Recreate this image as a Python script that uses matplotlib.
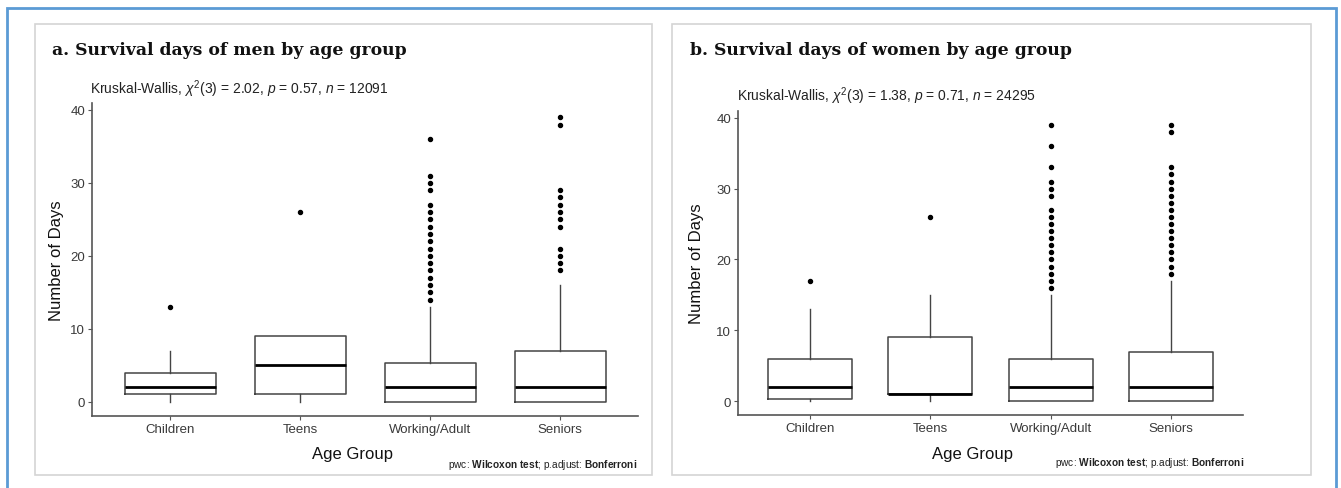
import matplotlib
matplotlib.use("Agg")
import matplotlib.pyplot as plt
from matplotlib.patches import Rectangle

plt.rcParams['font.family'] = ['Liberation Sans', 'DejaVu Sans']
plt.rcParams['mathtext.fontset'] = 'custom'
plt.rcParams['mathtext.rm'] = 'Liberation Sans'
plt.rcParams['mathtext.it'] = 'Liberation Sans:italic'
plt.rcParams['mathtext.bf'] = 'Liberation Sans:bold'

# data
groups = ["Children", "Teens", "Working/Adult", "Seniors"]

men_q1 = [1, 1, 0, 0]
men_med = [2, 5, 2, 2]
men_q3 = [4, 9, 5.25, 7]
men_whislo = [0, 0, 0, 0]
men_whishi = [7, 9, 13, 16]
men_outliers = [
    [13],
    [26],
    [14, 15, 16, 17, 18, 19, 20, 21, 22, 23, 24, 25, 26, 27, 29, 30, 31, 36],
    [18, 19, 20, 21, 24, 25, 26, 27, 28, 29, 38, 39],
]

women_q1 = [0.25, 1, 0, 0]
women_med = [2, 1, 2, 2]
women_q3 = [6, 9, 6, 7]
women_whislo = [0, 0, 0, 0]
women_whishi = [13, 15, 15, 17]
women_outliers = [
    [17],
    [26],
    [16, 17, 18, 19, 20, 21, 22, 23, 24, 25, 26, 27, 29, 30, 31, 33, 36, 39],
    [18, 19, 20, 21, 22, 23, 24, 25, 26, 27, 28, 29, 30, 31, 32, 33, 38, 39],
]

titles = ["a. Survival days of men by age group", "b. Survival days of women by age group"]
subtitles = [r"Kruskal-Wallis, $\chi^2$(3) = 2.02, $p$ = 0.57, $n$ = 12091",
             r"Kruskal-Wallis, $\chi^2$(3) = 1.38, $p$ = 0.71, $n$ = 24295"]
caption = r"pwc: $\mathbf{Wilcoxon\ test}$; p.adjust: $\mathbf{Bonferroni}$"

W, H = 1341, 489
fig = plt.figure(figsize=(W / 100, H / 100), dpi=100)


def px(x0, y0, x1, y1):
    # pixel box (top-left origin) -> figure fraction rect
    return [x0 / W, 1 - y1 / H, (x1 - x0) / W, (y1 - y0) / H]


# outer blue frame and the two grey panel frames
fig.patches.append(Rectangle((7 / W, -0.05), (1336 - 7) / W, 1.05 - 9 / H,
                             transform=fig.transFigure, fill=False,
                             edgecolor='#5b9bd5', linewidth=2))
for (x0, y0, x1, y1) in [(35, 25, 652, 476), (672, 25, 1311, 476)]:
    r = px(x0, y0, x1, y1)
    fig.patches.append(Rectangle((r[0], r[1]), r[2], r[3], transform=fig.transFigure,
                                 fill=False, edgecolor='#d4d4d4', linewidth=1.2))

panels = [
    dict(rect=px(92, 104, 638, 417), q1=men_q1, med=men_med, q3=men_q3,
         lo=men_whislo, hi=men_whishi, out=men_outliers,
         title_xy=(52, 51), sub_xy=(90, 89), ylab_x=57, xlab_xy=(352, 455), cap_xy=(637, 465)),
    dict(rect=px(738, 112, 1243, 416), q1=women_q1, med=women_med, q3=women_q3,
         lo=women_whislo, hi=women_whishi, out=women_outliers,
         title_xy=(690, 51), sub_xy=(737, 96), ylab_x=697, xlab_xy=(973, 454), cap_xy=(1244, 463)),
]

for i, p in enumerate(panels):
    ax = fig.add_axes(p['rect'])
    stats = []
    for k, g in enumerate(groups):
        stats.append(dict(label=g, q1=p['q1'][k], med=p['med'][k], q3=p['q3'][k],
                          whislo=p['lo'][k], whishi=p['hi'][k], fliers=p['out'][k]))
    ax.bxp(stats, positions=[1, 2, 3, 4], widths=0.7, showcaps=False, patch_artist=False,
           boxprops=dict(color='#444444', linewidth=1.1),
           whiskerprops=dict(color='#444444', linewidth=1.0),
           medianprops=dict(color='black', linewidth=2.0),
           flierprops=dict(marker='o', markersize=2.9, markerfacecolor='black',
                           markeredgecolor='black'))
    ax.set_xlim(0.4, 4.6)
    ax.set_ylim(-1.95, 40.95)
    ax.set_yticks([0, 10, 20, 30, 40])
    for s in ['top', 'right']:
        ax.spines[s].set_visible(False)
    for s in ['left', 'bottom']:
        ax.spines[s].set_color('#555555')
        ax.spines[s].set_linewidth(1.2)
    ax.tick_params(axis='both', length=3, color='#555555', labelcolor='#3a3a3a',
                   labelsize=9.5, pad=2)

    tx, ty = p['title_xy']
    fig.text(tx / W, 1 - ty / H, titles[i], family='DejaVu Serif', fontweight='bold',
             fontsize=12.4, va='center', ha='left', color='#111111')
    sx, sy = p['sub_xy']
    fig.text(sx / W, 1 - sy / H, subtitles[i], fontsize=10, va='center', ha='left',
             color='#222222')
    r = p['rect']
    fig.text(p['ylab_x'] / W, r[1] + r[3] / 2, "Number of Days", rotation=90,
             fontsize=12, va='center', ha='center', color='#111111')
    xx, xy = p['xlab_xy']
    fig.text(xx / W, 1 - xy / H, "Age Group", fontsize=12, va='center', ha='center',
             color='#111111')
    cx, cy = p['cap_xy']
    fig.text(cx / W, 1 - cy / H, caption, fontsize=7.3, va='center', ha='right',
             color='#222222')

fig.savefig("out.png", dpi=100)
